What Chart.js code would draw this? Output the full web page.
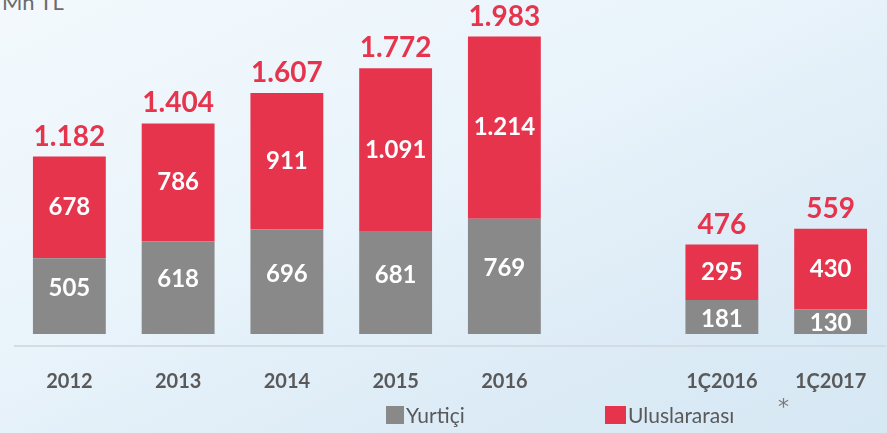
<!DOCTYPE html>
<html>
<head>
<meta charset="utf-8">
<script src="https://cdn.jsdelivr.net/npm/chart.js@4"></script>
<style>
  html, body { margin: 0; padding: 0; }
  body {
    width: 887px; height: 433px; overflow: hidden; position: relative;
    background: linear-gradient(155deg, #f3f9fd 0%, #eaf4fb 40%, #dcebf6 75%, #d6e8f4 100%);
    font-family: Lato, "Open Sans", sans-serif;
  }
  #unit { position: absolute; left: 2px; top: -12px; font-size: 22px; color: #6b6b6b; }
  #wrap { position: absolute; left: 0; top: 0; width: 887px; height: 410px; }
  .leg { position: absolute; top: 402px; font-size: 21px; color: #595959; display: flex; align-items: center; }
  .sw { width: 18px; height: 18px; margin-right: 2px; }
  #star { position: absolute; left: 778px; top: 394px; font-size: 22px; color: #7a7a7a; font-family: "DejaVu Sans", sans-serif; }
</style>
</head>
<body>
<div id="unit">Mn TL</div>
<div id="wrap"><canvas id="c"></canvas></div>
<div class="leg" style="left:386px"><span class="sw" style="background:#898989"></span><span id="l1"></span></div>
<div class="leg" style="left:605px"><span class="sw" style="background:#e6344d;width:21px"></span><span id="l2"></span></div>
<div id="star">*</div>
<script>
// categories (empty slot = gap between yearly and quarterly bars)
const categories = ['2012', '2013', '2014', '2015', '2016', '', '1Ç2016', '1Ç2017'];
const seriesNames = ['Yurtiçi', 'Uluslararası'];
// yearly values (Mn TL)
const domesticYear = [505, 618, 696, 681, 769, null, null, null];
const intlYear = [678, 786, 911, 1091, 1214, null, null, null];
const totalYear = [1182, 1404, 1607, 1772, 1983, null, null, null];
// quarterly values (own scale)
const domesticQ = [null, null, null, null, null, null, 181, 130];
const intlQ = [null, null, null, null, null, null, 295, 430];
const totalQ = [null, null, null, null, null, null, 476, 559];

const GRAY = '#898989';
const RED = '#e6344d';

document.getElementById('l1').textContent = seriesNames[0];
document.getElementById('l2').textContent = seriesNames[1];

function fmt(v) {
  return String(v).replace(/\B(?=(\d{3})+(?!\d))/g, '.');
}

const labelPlugin = {
  id: 'labels',
  afterDatasetsDraw(chart) {
    const ctx = chart.ctx;
    ctx.save();
    ctx.textAlign = 'center';
    ctx.textBaseline = 'middle';
    chart.data.datasets.forEach((ds, di) => {
      const meta = chart.getDatasetMeta(di);
      meta.data.forEach((bar, i) => {
        const v = ds.data[i];
        if (v == null) return;
        const top = Math.min(bar.y, bar.base);
        const bottom = Math.max(bar.y, bar.base);
        let y = (top + bottom) / 2;
        if (ds.kind === 'dom') y += ds.yAxisID === 'y' ? -8 : 2;
        ctx.fillStyle = '#ffffff';
        ctx.font = 'bold 24px Lato';
        ctx.fillText(fmt(v), bar.x, y);
        if (ds.kind === 'intl') {
          const tot = ds.yAxisID === 'y' ? totalYear[i] : totalQ[i];
          ctx.fillStyle = RED;
          ctx.font = 'bold 28px Lato';
          ctx.fillText(fmt(tot), bar.x, top - 20);
        }
      });
    });
    ctx.restore();
  }
};

new Chart(document.getElementById('c'), {
  type: 'bar',
  data: {
    labels: categories,
    datasets: [
      { label: seriesNames[0], kind: 'dom', data: domesticYear, backgroundColor: GRAY, yAxisID: 'y', stack: 's' },
      { label: seriesNames[1], kind: 'intl', data: intlYear, backgroundColor: RED, yAxisID: 'y', stack: 's' },
      { label: seriesNames[0], kind: 'dom', data: domesticQ, backgroundColor: GRAY, yAxisID: 'y2', stack: 's' },
      { label: seriesNames[1], kind: 'intl', data: intlQ, backgroundColor: RED, yAxisID: 'y2', stack: 's' }
    ]
  },
  options: {
    responsive: true,
    maintainAspectRatio: false,
    animation: false,
    categoryPercentage: 1,
    barPercentage: 0.67,
    skipNull: true,
    layout: { padding: { left: 15, right: 2, top: 0, bottom: 0 } },
    plugins: { legend: { display: false }, tooltip: { enabled: false } },
    scales: {
      x: {
        stacked: true,
        grid: { display: false },
        border: { color: '#d3dce3', width: 2 },
        ticks: { color: '#595959', font: { family: 'Lato', weight: 'bold', size: 20 }, padding: 16 }
      },
      y: { stacked: true, display: false, min: -80, max: 2227 },
      y2: { stacked: true, display: false, min: -64, max: 1777 }
    }
  },
  plugins: [labelPlugin]
});
</script>
</body>
</html>
